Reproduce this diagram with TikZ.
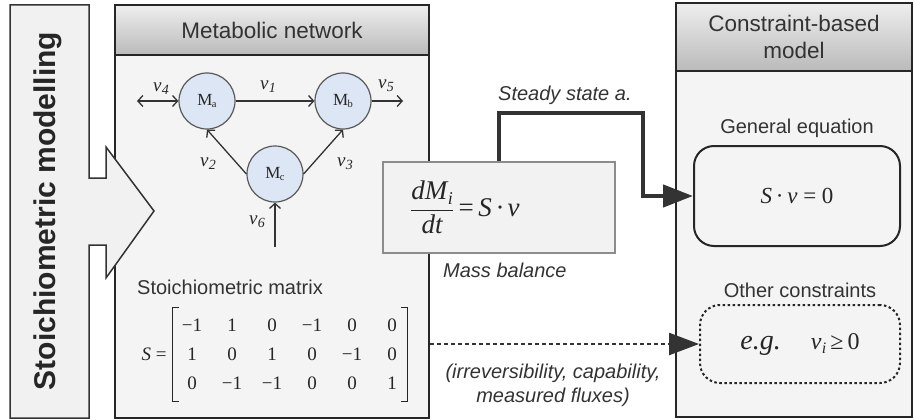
\documentclass[tikz,border=0pt]{standalone}
\usepackage{fontspec}
\setmainfont{Liberation Sans}
\newfontfamily\tms{Liberation Serif}
\usetikzlibrary{arrows.meta,calc,matrix}

\definecolor{ink}{HTML}{333333}
\definecolor{panelfill}{HTML}{F4F4F4}
\definecolor{headtop}{HTML}{EEEEEE}
\definecolor{headbot}{HTML}{BABABA}
\definecolor{metfill}{HTML}{DDE6F4}
\definecolor{eqfill}{HTML}{F2F2F2}
\definecolor{eqline}{HTML}{8C8C8C}
\definecolor{arrowfill}{HTML}{F1F1F1}

% flux label: italic v with lowered index
\newcommand\fluxv[1]{v\kern0.3pt\raisebox{-3pt}{\fontsize{14}{14}\selectfont #1}}
% metabolite label: M with small lowered index
\newcommand\metab[1]{M\kern-0.5pt\raisebox{-2.5pt}{\fontsize{10.5}{10.5}\selectfont #1}}

\begin{document}
\begin{tikzpicture}[x=1pt,y=-1pt,
  panel/.style={draw=black!85, line width=2pt, fill=panelfill, rectangle, inner sep=0pt},
  head/.style={draw=black!85, line width=2pt, top color=headtop, bottom color=headbot,
    rectangle, inner sep=0pt, align=center, text=ink, font=\fontsize{22.5}{27}\selectfont},
  met/.style={circle, draw=black!65, line width=1.2pt, fill=metfill, minimum size=56pt,
    inner sep=0pt, text=black!85, font=\tms\fontsize{17}{17}\selectfont},
  flux/.style={draw=black!80, line width=1.3pt, -{Straight Barb[length=5pt,width=11pt]}},
  vlab/.style={inner sep=0pt, text=black!85, font=\tms\itshape\fontsize{19}{19}\selectfont},
  lab/.style={inner sep=0pt, text=ink, font=\fontsize{20}{24}\selectfont},
  itlab/.style={inner sep=0pt, text=ink, align=center, font=\fontsize{20}{24}\selectfont\itshape},
  bigtip/.style={-{Triangle[length=30pt,width=22pt]}},
  steady/.style={draw=black!80, line width=4.5pt, line join=miter, bigtip},
  extra/.style={draw=black!80, line width=2.5pt, dash pattern=on 4pt off 3pt, bigtip},
  brk/.style={draw=black!85, line width=1.2pt, line join=miter}
]
\useasboundingbox (0,0) rectangle (914,420);

% ---------- metabolic network panel ----------
\node[panel, minimum width=314pt, minimum height=413pt] (net) at (272,211.5) {};
\node[head, minimum width=314pt, minimum height=50pt, anchor=north] (nethead) at (net.north) {Metabolic network};

% ---------- big block arrow on the left ----------
\draw[draw=black!80, line width=1.5pt, fill=arrowfill, line join=miter]
  (10,5) -- (89,5) -- (89,178) -- (106,178) -- (106,147) -- (154,211)
  -- (106,278) -- (106,245) -- (89,245) -- (89,418) -- (10,418) -- cycle;
\node[rotate=90, text=black!85, font=\bfseries\fontsize{30}{30}\selectfont] (title) at (48,211) {Stoichiometric modelling};

% ---------- reaction network ----------
\node[met] (Ma) at (207,101) {\metab{a}};
\node[met] (Mb) at (343,101) {\metab{b}};
\node[met] (Mc) at (275,174) {\metab{c}};
\coordinate (in4) at (137,101);
\coordinate (out5) at (403,101);
\coordinate (in6) at (275,247);

\draw[flux, {Straight Barb[length=5pt,width=11pt]}-{Straight Barb[length=5pt,width=11pt]}] (in4) -- (Ma.west);
\draw[flux] (Ma.east) -- (Mb.west);
\draw[flux] (Mb.east) -- (out5);
\draw[flux] (Mc.west) -- (Ma.south);
\draw[flux] (Mc.east) -- (Mb.south);
\draw[flux] (in6) -- (Mc.south);

\node[vlab] (l4) at (161,89) {\fluxv{4}};
\node[vlab] (l1) at (268,87) {\fluxv{1}};
\node[vlab] (l5) at (386,86) {\fluxv{5}};
\node[vlab] (l2) at (208,164) {\fluxv{2}};
\node[vlab] (l3) at (345,164) {\fluxv{3}};
\node[vlab] (l6) at (257,222) {\fluxv{6}};

% ---------- stoichiometric matrix ----------
\node[lab, anchor=west] (smlab) at (137,287) {Stoichiometric matrix};
\matrix (smat) [matrix of nodes, inner sep=0pt, column sep=0pt, row sep=0pt,
  nodes={inner sep=0pt, minimum width=40pt, minimum height=29pt, text=black!85,
         font=\tms\fontsize{19}{19}\selectfont}] at (292,354) {
  −1 & 1 & 0 & −1 & 0 & 0 \\
  1 & 0 & 1 & 0 & −1 & 0 \\
  0 & −1 & −1 & 0 & 0 & 1 \\
};
\draw[brk] ([shift={(7pt,3pt)}]smat.north west) -- ([shift={(1pt,3pt)}]smat.north west)
  -- ([shift={(1pt,-4pt)}]smat.south west) -- ([shift={(7pt,-4pt)}]smat.south west);
\draw[brk] ([shift={(-11pt,3pt)}]smat.north east) -- ([shift={(-5pt,3pt)}]smat.north east)
  -- ([shift={(-5pt,-4pt)}]smat.south east) -- ([shift={(-11pt,-4pt)}]smat.south east);
\node[anchor=east, inner sep=0pt, text=black!85, font=\tms\fontsize{19}{19}\selectfont]
  (slhs) at ([xshift=-5pt]smat.west) {\itshape S\upshape\ =};

% ---------- mass balance ----------
\node[rectangle, draw=eqline, line width=1.5pt, fill=eqfill, minimum width=232pt, minimum height=91pt] (eqbox) at (499,207.5) {};
\node[anchor=west, inner sep=0pt, text=black!85, font=\tms\fontsize{27}{30}\selectfont] (eqtext) at (410,207)
  {$\displaystyle\frac{\hbox{\itshape dM\kern0.5pt\raisebox{-5pt}{\fontsize{18}{18}\selectfont i}}}{\hbox{\itshape dt}}$\,=\,\itshape S\,·\,v};
\node[itlab, anchor=west] (mbal) at (443,270) {Mass balance};

% ---------- constraint-based model panel ----------
\node[panel, minimum width=236pt, minimum height=414pt] (cbm) at (794,210) {};
\node[head, minimum width=236pt, minimum height=68pt, anchor=north] (cbmhead) at (cbm.north) {Constraint-based\\model};

\node[lab] (gentitle) at (797,128) {General equation};
\node[draw=black!85, line width=2pt, rounded corners=20pt, fill=panelfill,
      minimum width=206pt, minimum height=100pt, text=black!85,
      font=\tms\fontsize{23}{23}\selectfont] (genbox) at (797,196) {\itshape S\upshape\,·\,\itshape v\upshape\ = 0};

\node[lab] (othtitle) at (800,290) {Other constraints};
\node[draw=black!85, line width=2pt, dash pattern=on 2.5pt off 2.5pt, rounded corners=20pt, fill=panelfill,
      minimum width=200pt, minimum height=78pt, text=black!85,
      font=\tms\fontsize{24}{24}\selectfont] (oth) at (800,344)
  {{\itshape\fontsize{28}{28}\selectfont e.g.}\hspace{30pt}{\itshape v\kern0.5pt\raisebox{-4pt}{\fontsize{16}{16}\selectfont i}}\,≥\,0};

% ---------- connectors ----------
\draw[steady] (eqbox.north) |- (643,113) |- (genbox.west);
\node[itlab, anchor=west] (sslab) at (498,95) {Steady state a.};

\draw[extra] (net.east |- oth.west) -- (oth.west);
\node[itlab] (irrlab) at (553,385) {(irreversibility, capability,\\measured fluxes)};

\end{tikzpicture}
\end{document}
